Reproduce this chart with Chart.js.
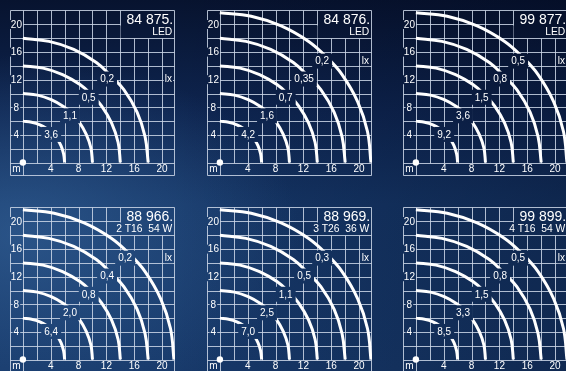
<!DOCTYPE html>
<html>
<head>
<meta charset="utf-8" />
<title>Isolux</title>
<script src="https://cdn.jsdelivr.net/npm/chart.js@4.4.1/dist/chart.umd.min.js"></script>
<style>
    html, body { margin: 0; padding: 0; }
    body {
        width: 566px; height: 371px; overflow: hidden; position: relative;
        background:
            radial-gradient(ellipse 280px 180px at 20px 235px, rgba(62,112,168,0.5) 0%, rgba(62,112,168,0) 100%),
            linear-gradient(90deg, rgba(0,5,25,0) 30%, rgba(0,5,25,0.3) 100%),
            linear-gradient(180deg, #07132f 0%, #0e2550 30%, #153666 55%, #17396a 100%);
    }
    canvas { position: absolute; }
</style>
</head>
<body>
<canvas id="p0" width="169" height="170" style="left:8px;top:8px"></canvas>
<canvas id="p1" width="169" height="170" style="left:205px;top:8px"></canvas>
<canvas id="p2" width="169" height="170" style="left:401px;top:8px"></canvas>
<canvas id="p3" width="169" height="170" style="left:8px;top:205px"></canvas>
<canvas id="p4" width="169" height="170" style="left:205px;top:205px"></canvas>
<canvas id="p5" width="169" height="170" style="left:401px;top:205px"></canvas>

<script>
    // Leuchten-Nummern und Lampenbestückung
    const panelNumbers = ['84 875.', '84 876.', '99 877.', '88 966.', '88 969.', '99 899.'];
    const panelTypes = ['LED', 'LED', 'LED', '2 T16  54 W', '3 T26  36 W', '4 T16  54 W'];

    // lx-Werte der Isolux-Kurven, von innen nach aussen
    const luxValues = [
        ['3,6', '1,1', '0,5', '0,2'],
        ['4,2', '1,6', '0,7', '0,35', '0,2'],
        ['9,2', '3,6', '1,5', '0,8', '0,5'],
        ['6,4', '2,0', '0,8', '0,4', '0,2'],
        ['7,0', '2,5', '1,1', '0,5', '0,3'],
        ['8,5', '3,3', '1,5', '0,8', '0,5']
    ];

    const curve6 = [[0, 6], [1.25, 5.85], [2.45, 5.47], [3.52, 4.85], [4.24, 4.24], [4.85, 3.52], [5.47, 2.45], [5.85, 1.25], [6, 0]];
    const curve10 = [[0, 10], [2.1, 9.77], [4.07, 9.1], [5.88, 8.07], [7.05, 7.05], [8.07, 5.88], [9.1, 4.07], [9.77, 2.1], [10, 0]];
    const curve14 = [[0, 14], [2.9, 13.68], [5.7, 12.75], [8.2, 11.3], [9.85, 9.85], [11.3, 8.2], [12.75, 5.7], [13.68, 2.9], [14, 0]];
    const curve18 = [[0, 18], [3.75, 17.55], [7.3, 16.4], [10.55, 14.5], [12.6, 12.6], [14.5, 10.55], [16.4, 7.3], [17.55, 3.75], [18, 0]];
    const curve22 = [[0, 21.7], [4.5, 21.2], [8.8, 19.8], [12.75, 17.55], [15.3, 15.3], [17.55, 12.75], [19.8, 8.8], [21.2, 4.5], [21.7, 0]];
    const curves = [curve6, curve10, curve14, curve18, curve22];

    const xTickLabels = ['4', '8', '12', '16', '20'];
    const yTickLabels = ['4', '8', '12', '16', '20'];

    const gridColor = 'rgba(205,215,232,0.85)';
    const fontName = '"Liberation Sans", Arial, sans-serif';

    function knockText(ctx, text, cx, cy, font, padX, h) {
        ctx.font = font;
        const w = ctx.measureText(text).width + padX * 2;
        ctx.save();
        ctx.globalCompositeOperation = 'destination-out';
        ctx.fillStyle = '#000';
        ctx.fillRect(cx - w / 2, cy - h / 2, w, h);
        ctx.restore();
        ctx.fillStyle = '#fff';
        ctx.textAlign = 'center';
        ctx.textBaseline = 'middle';
        ctx.fillText(text, cx, cy + 0.5);
    }

    const isoluxPlugin = {
        id: 'isolux',
        beforeDatasetsDraw(chart) {
            const ctx = chart.ctx;
            const xs = chart.scales.x, ys = chart.scales.y;
            const px = v => Math.round(xs.getPixelForValue(v)) + 0.5;
            const py = v => Math.round(ys.getPixelForValue(v)) + 0.5;
            const a = chart.chartArea;
            const L = Math.round(a.left) + 0.5, R = Math.round(a.right) - 0.5;
            const T = Math.round(a.top) + 0.5, B = Math.round(a.bottom) - 0.5;
            ctx.save();
            ctx.strokeStyle = gridColor;
            ctx.lineWidth = 1;
            ctx.beginPath();
            ctx.rect(L, T, R - L, B - T);
            for (let y = 0; y <= 20; y += 2) {
                ctx.moveTo(L, py(y));
                ctx.lineTo(y === 20 ? px(14) : R, py(y));
            }
            for (let x = 0; x <= 20; x += 2) {
                ctx.moveTo(px(x), x > 14 ? py(18) : T);
                ctx.lineTo(px(x), x === 0 ? B : py(0));
            }
            ctx.stroke();
            ctx.restore();
        },
        afterDatasetsDraw(chart, args, opts) {
            const i = opts.idx;
            const ctx = chart.ctx;
            const xs = chart.scales.x, ys = chart.scales.y;
            const px = v => xs.getPixelForValue(v);
            const py = v => ys.getPixelForValue(v);
            const a = chart.chartArea;
            const R = Math.round(a.right) - 0.5, T = Math.round(a.top) + 0.5;
            ctx.save();

            // Kasten fuer Nummer und Bestueckung
            const bx = Math.round(px(14)) + 0.5, by = Math.round(py(18)) + 0.5;
            ctx.font = '10.3px ' + fontName;
            const subW = ctx.measureText(panelTypes[i]).width;
            const subL = Math.min(bx, Math.round(px(21.45) - subW) - 2);
            ctx.save();
            ctx.globalCompositeOperation = 'destination-out';
            ctx.fillRect(bx + 0.5, T + 0.5, R - bx - 1, by - T - 1);
            ctx.fillRect(subL, py(18.55) - 9, R - subL - 0.5, by - py(18.55) + 8.5);
            ctx.restore();
            ctx.fillStyle = '#fff';
            ctx.textAlign = 'right';
            ctx.textBaseline = 'alphabetic';
            ctx.font = '14px ' + fontName;
            ctx.fillText(panelNumbers[i], px(21.6), py(20));
            ctx.font = '10.3px ' + fontName;
            ctx.fillText(panelTypes[i], px(21.45), py(18.55));

            // Achsbeschriftung
            yTickLabels.forEach(t => knockText(ctx, t, px(-0.93), py(Number(t)), '10px ' + fontName, 1, 9));
            xTickLabels.forEach(t => knockText(ctx, t, px(Number(t)), py(-0.95), '10px ' + fontName, 1, 9));
            knockText(ctx, 'm', px(-0.93), py(-0.95), '10px ' + fontName, 1, 9);

            // Kurvenwerte
            const vals = luxValues[i];
            vals.forEach((v, k) => {
                const p = curves[k][4];
                knockText(ctx, v, px(p[0] * 0.96), py(p[1] * 0.96), '10px ' + fontName, 3, 15);
            });
            const outer = curves[vals.length - 1][4];
            knockText(ctx, 'lx', px(20.9), py(outer[1] * 0.96), '10px ' + fontName, 1, 10);

            // Ursprung
            ctx.fillStyle = '#fff';
            ctx.beginPath();
            ctx.arc(px(0), py(0), 3.2, 0, Math.PI * 2);
            ctx.fill();
            ctx.restore();
        }
    };

    panelNumbers.forEach((num, i) => {
        const datasets = luxValues[i].map((v, k) => ({
            label: v,
            data: curves[k].map(p => ({ x: p[0], y: p[1] })),
            showLine: true,
            borderColor: '#ffffff',
            borderWidth: 3,
            pointRadius: 0,
            tension: 0.4,
            fill: false
        }));
        new Chart(document.getElementById('p' + i), {
            type: 'scatter',
            data: { datasets: datasets },
            options: {
                responsive: false,
                animation: false,
                events: [],
                layout: { padding: 2 },
                plugins: {
                    legend: { display: false },
                    tooltip: { enabled: false },
                    isolux: { idx: i }
                },
                scales: {
                    x: { type: 'linear', min: -1.85, max: 21.85, display: false },
                    y: { type: 'linear', min: -1.95, max: 22.1, display: false }
                }
            },
            plugins: [isoluxPlugin]
        });
    });
</script>
</body>
</html>
